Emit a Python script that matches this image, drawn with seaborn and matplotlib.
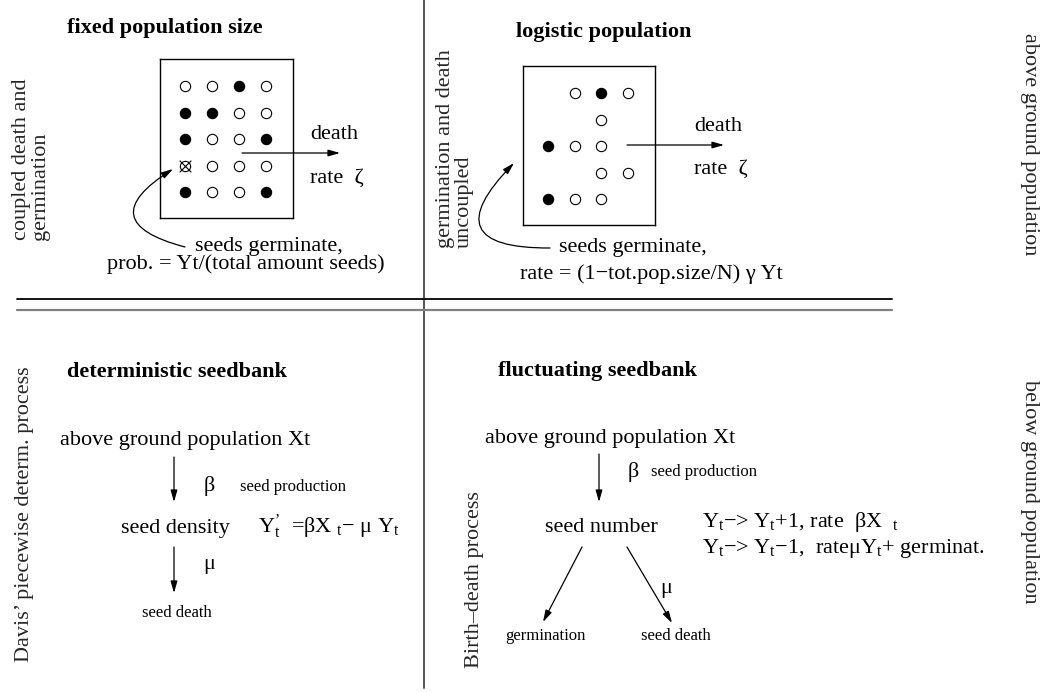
#!/usr/bin/env python3
"""Seedbank model overview diagram (four panels)."""

import matplotlib
matplotlib.use("Agg")
import matplotlib.pyplot as plt
import seaborn as sns
import pandas as pd

# ── Data ───────────────────────────────────────────────────────────────────
# dot patterns inside the two boxes: "f" filled, "o" open, "x" crossed, " " empty
PATTERN_FIXED = ["oofo", "ffoo", "foof", "xooo", "foof"]
PATTERN_LOGISTIC = [" ofo", "  o ", "foo ", "  oo", "foo "]

TITLES = ["fixed population size", "logistic population",
          "deterministic seedbank", "fluctuating seedbank"]
SIDE_LEFT = ["coupled death and\ngermination", "germination and death\nuncoupled",
             "Davis’ piecewise determ. process", "Birth–death process"]
SIDE_RIGHT = ["above ground population", "below ground population"]

sns.set_theme(style="white")
SERIF = ["Liberation Serif", "DejaVu Serif"]
plt.rcParams["font.family"] = SERIF
plt.rcParams["mathtext.fontset"] = "custom"
plt.rcParams["mathtext.rm"] = "Liberation Serif"
plt.rcParams["mathtext.it"] = "Liberation Serif:italic"
plt.rcParams["mathtext.bf"] = "Liberation Serif:bold"

W, H = 1048, 692
fig = plt.figure(figsize=(W / 100, H / 100), dpi=100)
ax = fig.add_axes([0, 0, 1, 1])
ax.set_xlim(0, W)
ax.set_ylim(H, 0)
ax.axis("off")
ax.set_zorder(5)  # text and arrows on top of the dot boxes


def put(x, y, s, size=16, **kw):
    kw.setdefault("ha", "left")
    kw.setdefault("va", "baseline")
    ax.text(x, y, s, fontsize=size, color="black", **kw)


def arrow(start, end, rad=0.0):
    ax.annotate("", xy=end, xytext=start,
                arrowprops=dict(arrowstyle="-|>,head_length=0.7,head_width=0.2",
                                color="black", lw=0.9, mutation_scale=10,
                                shrinkA=0, shrinkB=0,
                                connectionstyle=f"arc3,rad={rad}"))


def dot_box(x0, y0, x1, y1, pattern):
    bx = fig.add_axes([x0 / W, 1 - y1 / H, (x1 - x0) / W, (y1 - y0) / H])
    bx.set_zorder(1)
    rows = []
    for r, line in enumerate(pattern):
        for c, ch in enumerate(line):
            if ch != " ":
                rows.append({"col": c, "row": r, "state": ch})
    df = pd.DataFrame(rows)
    filled = df[df.state == "f"]
    opened = df[df.state != "f"]
    crossed = df[df.state == "x"]
    sns.scatterplot(data=opened, x="col", y="row", s=55, color="white",
                    edgecolor="black", linewidth=0.8, ax=bx, legend=False)
    sns.scatterplot(data=filled, x="col", y="row", s=55, color="black",
                    edgecolor="black", linewidth=0.8, ax=bx, legend=False)
    if len(crossed):
        bx.scatter(crossed["col"], crossed["row"], s=70, marker="x",
                   color="black", linewidth=0.8)
    bx.set_xlim(-0.93, 4.0)
    bx.set_ylim(4.98, -1.02)
    bx.set(xlabel="", ylabel="", xticks=[], yticks=[])
    for sp in bx.spines.values():
        sp.set_visible(True)
        sp.set_color("black")
        sp.set_linewidth(1.0)
    bx.set_facecolor("white")


# ── Separators ─────────────────────────────────────────────────────────────
ax.plot([424, 424], [0, 688], color="#555555", lw=1.4)
ax.plot([17, 892], [299, 299], color="black", lw=1.3)
ax.plot([17, 892], [310, 310], color="#808080", lw=1.6)

# ── Titles ─────────────────────────────────────────────────────────────────
put(67, 33, TITLES[0], weight="bold")
put(516, 37, TITLES[1], weight="bold")
put(67, 377, TITLES[2], weight="bold")
put(498, 376, TITLES[3], weight="bold")

# ── Side labels ────────────────────────────────────────────────────────────
ax.text(31, 240, SIDE_LEFT[0], rotation=90, fontsize=16, ha="center", va="bottom",
        multialignment="left", linespacing=1.0)
ax.text(455, 248, SIDE_LEFT[1], rotation=90, fontsize=16, ha="center", va="bottom",
        multialignment="left", linespacing=1.0)
ax.text(25, 514, SIDE_LEFT[2], rotation=90, fontsize=16, ha="center", va="center")
ax.text(474, 580, SIDE_LEFT[3], rotation=90, fontsize=16, ha="center", va="center")
ax.text(1030, 144, SIDE_RIGHT[0], rotation=-90, fontsize=16, ha="center", va="center")
ax.text(1030, 492, SIDE_RIGHT[1], rotation=-90, fontsize=16, ha="center", va="center")

# ── Top-left: fixed population size ────────────────────────────────────────
dot_box(160, 59, 293, 218, PATTERN_FIXED)
arrow((242, 153), (340, 153))
put(310, 139, "death")
put(310, 183, "rate  ζ")
arrow((185, 247), (173, 169), rad=-1.15)
put(195, 251, "seeds germinate,")
put(107, 269, "prob. = Yt/(total amount seeds)")

# ── Top-right: logistic population ─────────────────────────────────────────
dot_box(523, 66, 655, 225, PATTERN_LOGISTIC)
arrow((627, 145), (724, 145))
put(694, 131, "death")
put(694, 174, "rate  ζ")
arrow((550, 248), (514, 163), rad=-1.2)
put(559, 252, "seeds germinate,")
put(520, 279, "rate = (1−tot.pop.size/N) γ Yt")

# ── Bottom-left: deterministic seedbank ────────────────────────────────────
put(60, 445, "above ground population Xt")
arrow((174, 457), (174, 502))
put(204, 491, "β")
put(240, 491, "seed production", size=12)
put(121, 533, "seed density")
put(258, 533, r"Y$_{\mathrm{t}}^{\mathrm{’}}$  =βX $_{\mathrm{t}}$− μ Y$_{\mathrm{t}}$")
arrow((174, 547), (174, 593))
put(203, 569, "μ")
put(142, 617, "seed death", size=12)

# ── Bottom-right: fluctuating seedbank ─────────────────────────────────────
put(485, 443, "above ground population Xt")
arrow((599, 454), (599, 502))
put(628, 477, "β")
put(651, 476, "seed production", size=12)
put(545, 532, "seed number")
put(702, 527, r"Y$_{\mathrm{t}}$−> Y$_{\mathrm{t}}$+1, rate  βX  $_{\mathrm{t}}$")
put(702, 553, r"Y$_{\mathrm{t}}$−> Y$_{\mathrm{t}}$−1,  rateμY$_{\mathrm{t}}$+ germinat.")
arrow((582, 547), (543, 622))
arrow((627, 547), (672, 623))
put(660, 593, "μ")
put(505, 640, "germination", size=12)
put(641, 640, "seed death", size=12)

fig.savefig("out.png", dpi=100, facecolor="white")
plt.close(fig)
